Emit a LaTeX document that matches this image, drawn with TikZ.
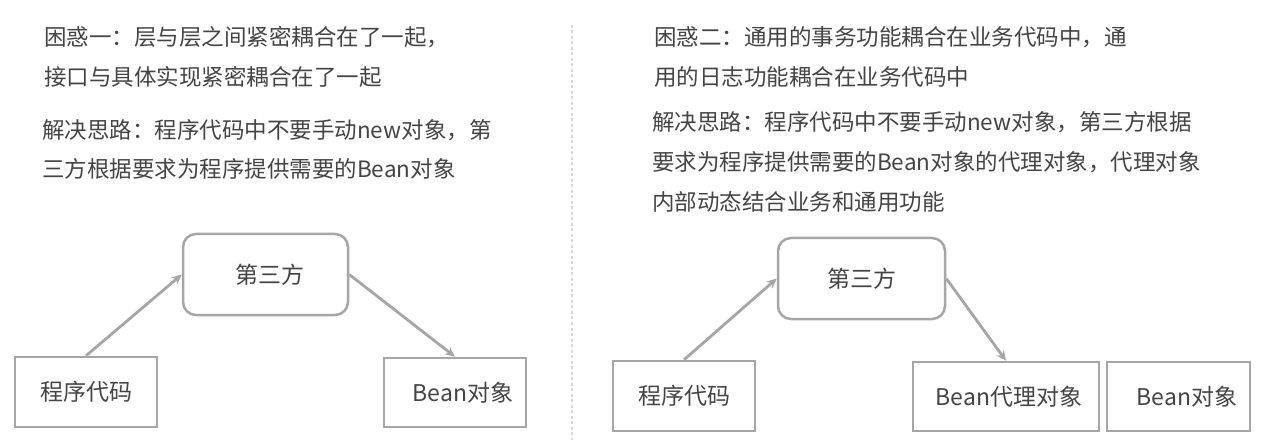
\documentclass[tikz,border=0pt]{standalone}
\usepackage{fontspec}
\setmainfont{Noto Sans CJK SC}
\usetikzlibrary{arrows.meta}
\definecolor{txt}{HTML}{444444}
\definecolor{edge}{HTML}{A6A6A6}
\definecolor{divc}{HTML}{D6D6D6}
\tikzset{
  para/.style={anchor=west, inner sep=0pt, text=txt, font=\fontsize{22.5}{26}\selectfont},
  box/.style={draw=edge, line width=2.5pt, fill=white, text=txt, inner sep=0pt,
    font=\fontsize{23}{26}\selectfont},
  rbox/.style={box, rounded corners=13pt},
  conn/.style={draw=edge, line width=2.8pt, -{Stealth[length=10pt,width=9pt]}},
  divider/.style={draw=divc, line width=1.4pt, dash pattern=on 3pt off 2.5pt}
}
\begin{document}
\begin{tikzpicture}[x=1pt,y=-1pt]
\useasboundingbox (0,0) rectangle (1265,443);
% divider
\coordinate (dtop) at (572,25);
\coordinate (dbot) at (572,440);
\draw[divider] (dtop) -- (dbot);

% left texts
\node[para] (l1) at (44,37) {困惑一：层与层之间紧密耦合在了一起，};
\node[para] (l2) at (44,77) {接口与具体实现紧密耦合在了一起};
\node[para] (l3) at (42,130) {解决思路：程序代码中不要手动new对象，第};
\node[para] (l4) at (42,169) {三方根据要求为程序提供需要的Bean对象};

% right texts
\node[para] (r1) at (654,37) {困惑二：通用的事务功能耦合在业务代码中，通};
\node[para] (r2) at (654,77) {用的日志功能耦合在业务代码中};
\node[para] (r3) at (652,122) {解决思路：程序代码中不要手动new对象，第三方根据};
\node[para] (r4) at (652,162) {要求为程序提供需要的Bean对象的代理对象，代理对象};
\node[para] (r5) at (652,202) {内部动态结合业务和通用功能};

% left diagram
\node[rbox, minimum width=165pt, minimum height=81pt] (sfL) at (265.5,274.5) {\hspace{8pt}第三方};
\node[box, minimum width=142pt, minimum height=70pt] (codeL) at (86,392) {程序代码};
\node[box, minimum width=142pt, minimum height=69pt] (beanL) at (455,392.5) {\hspace{16pt}Bean对象};
\draw[conn] (codeL.north) -- (sfL.west);
\draw[conn] (sfL.east) -- (beanL.north);

% right diagram
\node[rbox, minimum width=167pt, minimum height=81pt] (sfR) at (861.5,278.5) {第三方};
\node[box, minimum width=142pt, minimum height=70pt] (codeR) at (684,396) {程序代码};
\node[box, minimum width=186pt, minimum height=69pt] (proxyR) at (1006,396.5) {\hspace{6pt}Bean代理对象};
\node[box, minimum width=143pt, minimum height=69pt] (beanR) at (1178.5,396.5) {\hspace{17pt}Bean对象};
\draw[conn] (codeR.north) -- (sfR.west);
\draw[conn] (sfR.east) -- (proxyR.north);
\end{tikzpicture}
\end{document}
